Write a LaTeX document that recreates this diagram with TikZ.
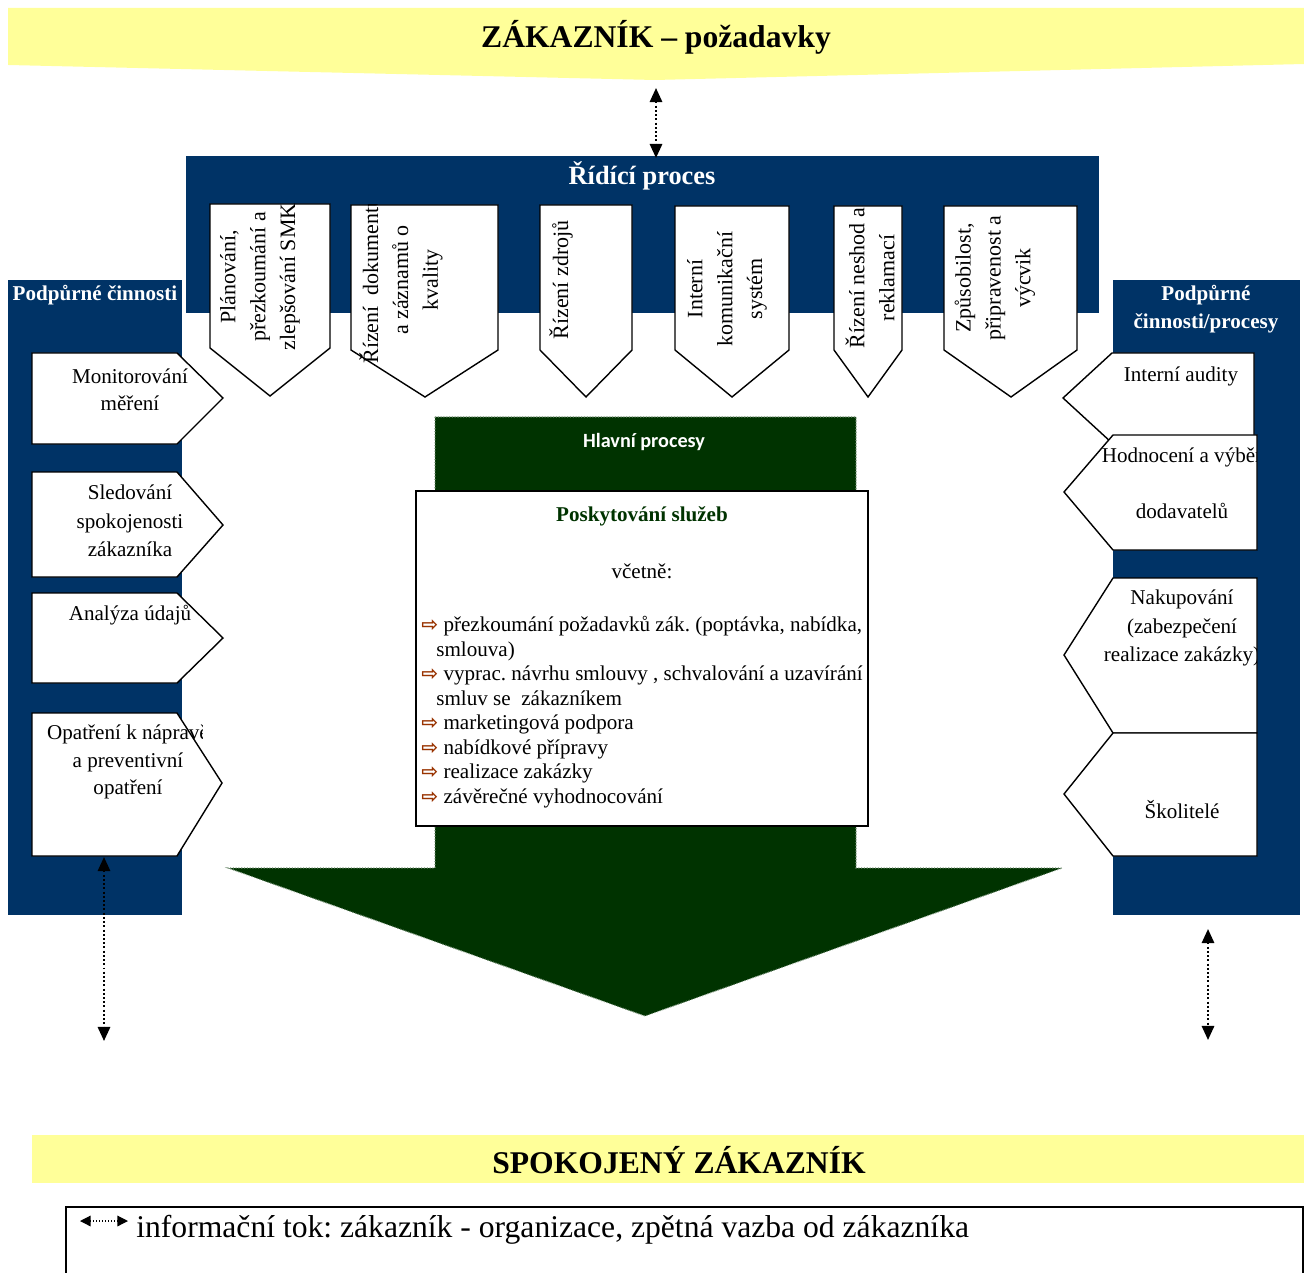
\documentclass[tikz,border=0pt]{standalone}
\usepackage{fontspec}
\setmainfont{Liberation Serif}
\newfontfamily\calfont{Carlito}
\newfontfamily\symfont{DejaVu Sans}
\usetikzlibrary{arrows.meta}
\definecolor{navy}{RGB}{0,51,102}
\definecolor{lemon}{RGB}{255,255,153}
\definecolor{dkgreen}{RGB}{0,51,0}
\definecolor{rust}{RGB}{153,51,0}
\newcommand{\blt}{{\color{rust}\symfont\bfseries\fontsize{11.5}{11.5}\selectfont ⇨}}
\frenchspacing

\begin{document}
\begin{tikzpicture}[x=0.02cm, y=-0.02cm,
  tag/.style={draw=black, fill=white, line width=0.8pt},
  txt/.style={align=center, inner sep=0pt, font=\fontsize{12}{#1}\selectfont},
  txt/.default=15.5,
  toptxt/.style={rotate=90, align=center, inner sep=0pt, font=\fontsize{12.5}{17}\selectfont},
  head/.style={text=white, align=center, inner sep=0pt, font=\bfseries\fontsize{12}{16}\selectfont},
  infoarrow/.style={{Triangle[width=7pt,length=8pt]}-{Triangle[width=7pt,length=8pt]}, line width=1.2pt, dash pattern=on 1.1pt off 1.3pt}]
\useasboundingbox (0,0) rectangle (1304,1273);

% customer banner
\fill[lemon] (8,8) -- (1304,8) -- (1304,64) -- (655,80) -- (8,65) -- cycle;
\node[inner sep=0pt, font=\bfseries\fontsize{18}{20}\selectfont] (zak) at (656,37) {ZÁKAZNÍK – požadavky};

% blue frames
\fill[navy] (186,156) rectangle (1099,313);
\fill[navy] (8,280) rectangle (182,915);
\fill[navy] (1113,280) rectangle (1300,915);
\node[head, font=\bfseries\fontsize{15}{18}\selectfont] (ridici) at (642,176) {Řídící proces};
\node[head] (podL) at (95,295) {Podpůrné činnosti};
\node[head, font=\bfseries\fontsize{12}{16}\selectfont] (podR) at (1206,309) {Podpůrné\\činnosti/procesy};

% management tags
\draw[tag] (210,204) -- (330,204) -- (330,348) -- (270,396) -- (210,348) -- cycle;
\draw[tag] (351,205) -- (498,205) -- (498,350) -- (425,397) -- (351,350) -- cycle;
\draw[tag] (540,205) -- (632,205) -- (632,350) -- (586,397) -- (540,350) -- cycle;
\draw[tag] (675,206) -- (789,206) -- (789,350) -- (732,397) -- (675,350) -- cycle;
\draw[tag] (834,206) -- (902,206) -- (902,350) -- (868,397) -- (834,350) -- cycle;
\draw[tag] (944,206) -- (1077,206) -- (1077,350) -- (1011,397) -- (944,350) -- cycle;
\node[toptxt] (plan) at (260,277) {Plánování,\\přezkoumání a\\zlepšování SMK};
\begin{scope}
  \clip (351,205) rectangle (498,397);
  \node[toptxt] (dok) at (401,280) {Řízení\ \ dokumentů\\a záznamů o\\kvality};
\end{scope}
\node[toptxt] (zdr) at (561,280) {Řízení zdrojů};
\node[toptxt] (kom) at (727,289) {Interní\\komunikační\\systém};
\node[toptxt] (nes) at (870,278) {Řízení neshod a\\reklamací};
\node[toptxt] (vyc) at (995,278) {Způsobilost,\\připravenost a\\výcvik};

% left support tags
\draw[tag] (32,353) -- (177,353) -- (223,398) -- (177,444) -- (32,444) -- cycle;
\draw[tag] (32,472) -- (177,472) -- (223,525) -- (177,577) -- (32,577) -- cycle;
\draw[tag] (32,593) -- (177,593) -- (223,638) -- (177,683) -- (32,683) -- cycle;
\draw[tag] (32,713) -- (177,713) -- (222,783) -- (177,856) -- (32,856) -- cycle;
\node[txt=15.4] (mon) at (130,390) {Monitorování\\měření};
\node[txt=16.2] (sle) at (130,521) {Sledování\\spokojenosti\\zákazníka};
\node[txt] (ana) at (130,615) {Analýza údajů};
\begin{scope}
  \clip (32,713) rectangle (202,856);
  \node[txt=15.6] (opa) at (128,762) {Opatření k nápravě\\a preventivní\\opatření};
\end{scope}

% right support tags
\draw[tag] (1254,353) -- (1112,353) -- (1063,398) -- (1112,443) -- (1254,443) -- cycle;
\draw[tag] (1257,435) -- (1113,435) -- (1064,492) -- (1113,550) -- (1257,550) -- cycle;
\draw[tag] (1257,578) -- (1113,578) -- (1064,655) -- (1113,733) -- (1257,733) -- cycle;
\draw[tag] (1257,733) -- (1113,733) -- (1064,794) -- (1113,856) -- (1257,856) -- cycle;
\node[txt] (aud) at (1181,376) {Interní audity};
\begin{scope}
  \clip (1060,435) rectangle (1256,550);
  \node[txt] (hod) at (1182,457) {Hodnocení a výběr};
\end{scope}
\node[txt] (dod) at (1182,511) {dodavatelů};
\begin{scope}
  \clip (1060,578) rectangle (1256,733);
  \node[txt=16.2] (nak) at (1182,628) {Nakupování\\(zabezpečení\\realizace zakázky)};
\end{scope}
\node[txt] (sko) at (1182,810) {Školitelé};

% main process arrow
\filldraw[fill=dkgreen, draw=dkgreen!55!white, densely dotted, line width=0.6pt]
  (435,417) -- (856,417) -- (856,868) -- (1062,868) -- (645,1016) -- (228,868) -- (435,868) -- cycle;
\node[text=white, font=\calfont\bfseries\fontsize{11.5}{14}\selectfont] (hlav) at (644,442) {Hlavní procesy};

% services box
\draw[fill=white, line width=1pt] (416,491) rectangle (868,826);
\node[text=dkgreen, font=\bfseries\fontsize{12}{14}\selectfont] (posk) at (642,516) {Poskytování služeb};
\node[txt] (vcet) at (642,571) {včetně:};
\foreach \xx/\yy/\tx [count=\i] in {
  421/631/{\blt\ přezkoumání požadavků zák. (poptávka, nabídka,},
  436/656/{smlouva)},
  421/680/{\blt\ vyprac. návrhu smlouvy , schvalování a uzavírání},
  436/705/{smluv se\ \ zákazníkem},
  421/729/{\blt\ marketingová podpora},
  421/754/{\blt\ nabídkové přípravy},
  421/778/{\blt\ realizace zakázky},
  421/803/{\blt\ závěrečné vyhodnocování}}
  \node[anchor=base west, inner sep=0pt, font=\fontsize{12}{14}\selectfont] (item\i) at (\xx,\yy) {\tx};

% information flow
\coordinate (topA) at (656,88);
\coordinate (topB) at (656,158);
\coordinate (leftA) at (104,857);
\coordinate (leftB) at (104,1041);
\coordinate (rightA) at (1208,929);
\coordinate (rightB) at (1208,1040);
\draw[infoarrow] (topA) -- (topB);
\draw[infoarrow] (leftA) -- (leftB);
\draw[infoarrow] (rightA) -- (rightB);

% satisfied customer
\fill[lemon] (32,1135) rectangle (1304,1183);
\node[inner sep=0pt, font=\bfseries\fontsize{18}{20}\selectfont] (spok) at (679,1160) {SPOKOJENÝ ZÁKAZNÍK};

% legend
\draw[line width=1.1pt] (66,1273) -- (66,1207) -- (1303,1207) -- (1303,1273);
\coordinate (lgA) at (80,1221);
\coordinate (lgB) at (128,1221);
\draw[{Triangle[width=6pt,length=6pt]}-{Triangle[width=6pt,length=6pt]}, line width=0.7pt, dash pattern=on 0.7pt off 1pt] (lgA) -- (lgB);
\node[anchor=base west, inner sep=0pt, font=\fontsize{18}{20}\selectfont] (leg) at (136,1237) {informační tok: zákazník - organizace, zpětná vazba od zákazníka};
\end{tikzpicture}
\end{document}
